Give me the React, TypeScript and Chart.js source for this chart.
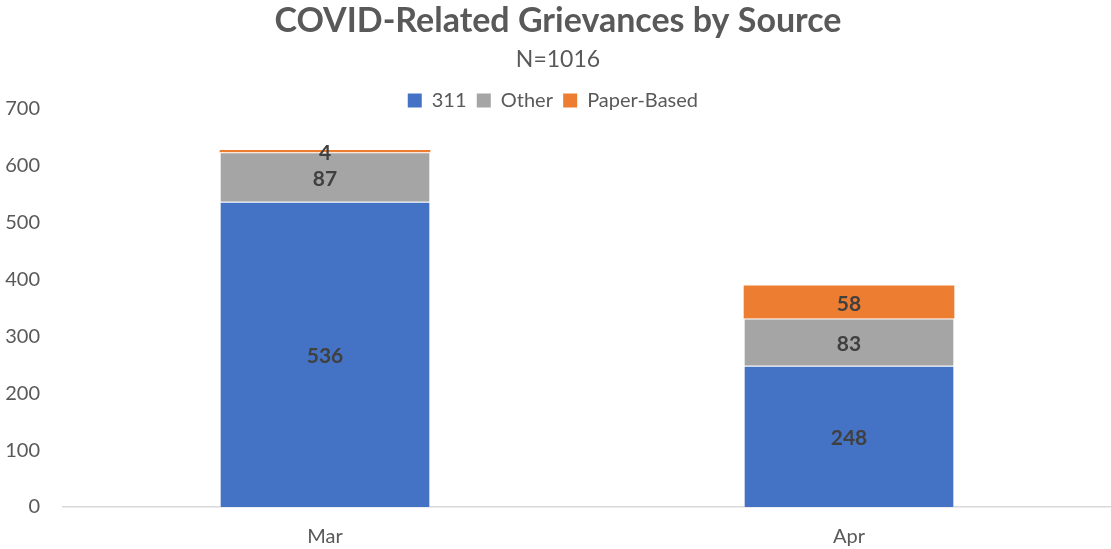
import React, { useEffect, useRef } from "react";
import { Chart, registerables } from "chart.js";

Chart.register(...registerables);

const categories = ["Mar", "Apr"];
const seriesNames = ["311", "Other", "Paper-Based"];
const values311 = [536, 248];
const valuesOther = [87, 83];
const valuesPaper = [4, 58];
const yTicks = [0, 100, 200, 300, 400, 500, 600, 700];

const FONT = "Lato, 'Noto Sans', sans-serif";
const TEXT = "#595959";

const dataLabels = {
  id: "dataLabels",
  afterDatasetsDraw(chart: any) {
    const ctx = chart.ctx;
    ctx.save();
    ctx.font = `bold 21px ${FONT}`;
    ctx.fillStyle = "#404040";
    ctx.textAlign = "center";
    ctx.textBaseline = "middle";
    chart.data.datasets.forEach((ds: any, i: number) => {
      const meta = chart.getDatasetMeta(i);
      meta.data.forEach((el: any, j: number) => {
        const y = (el.y + el.base) / 2;
        ctx.fillText(String(ds.data[j]), el.x, y + 2);
      });
    });
    ctx.restore();
  },
};

// Let the legend overlap the top of the plot area a little, as in the reference.
const legendShrink = {
  id: "legendShrink",
  beforeLayout(chart: any) {
    const lg = chart.legend;
    if (lg && !lg._shrunk) {
      const orig = lg.fit.bind(lg);
      lg.fit = function () {
        orig();
        this._fullHeight = this.height;
        this.height = 18;
      };
      lg._shrunk = true;
    }
  },
  afterLayout(chart: any) {
    const lg = chart.legend;
    if (lg && lg._fullHeight) {
      lg.height = lg._fullHeight;
      lg.bottom = lg.top + lg._fullHeight;
    }
  },
};

export default function App() {
  const ref = useRef<HTMLCanvasElement>(null);
  useEffect(() => {
    document.body.style.margin = "0";
    const chart = new Chart(ref.current!, {
      type: "bar",
      data: {
        labels: categories,
        datasets: [
          { label: seriesNames[0], data: values311, backgroundColor: "#4472C4", borderWidth: 1 },
          { label: seriesNames[1], data: valuesOther, backgroundColor: "#A5A5A5", borderWidth: 1 },
          { label: seriesNames[2], data: valuesPaper, backgroundColor: "#ED7D31", borderWidth: 0 },
        ].map((d) => ({
          ...d,
          borderColor: "rgba(255,255,255,0.5)",
          categoryPercentage: 1,
          barPercentage: 0.402,
        })),
      },
      options: {
        animation: false,
        responsive: false,
        maintainAspectRatio: false,
        layout: { padding: { left: 5, right: 0, top: 0, bottom: 0 } },
        plugins: {
          title: {
            display: true,
            text: "COVID-Related Grievances by Source",
            color: TEXT,
            font: { family: FONT, size: 34, weight: "bold", lineHeight: 1.2 },
            padding: { top: 1, bottom: 0 },
          },
          subtitle: {
            display: true,
            text: "N=1016",
            color: TEXT,
            font: { family: FONT, size: 23, lineHeight: 1.2 },
            padding: { top: 4, bottom: 17 },
          },
          legend: {
            display: true,
            position: "top",
            labels: {
              color: TEXT,
              font: { family: FONT, size: 20 },
              boxWidth: 14,
              boxHeight: 14,
              padding: 0,
              generateLabels(chart: any) {
                return chart.data.datasets.map((ds: any, i: number) => ({
                  text: ds.label + "  ",
                  fillStyle: ds.backgroundColor,
                  strokeStyle: ds.backgroundColor,
                  lineWidth: 0,
                  fontColor: TEXT,
                  hidden: false,
                  datasetIndex: i,
                }));
              },
            },
          },
          tooltip: { enabled: false },
        },
        scales: {
          x: {
            stacked: true,
            grid: { display: false, drawTicks: false },
            border: { display: true, color: "#D9D9D9", width: 1.5 },
            ticks: { color: TEXT, font: { family: FONT, size: 20 }, padding: 18 },
            afterFit(scale: any) {
              scale.height = 42;
            },
          },
          y: {
            stacked: true,
            min: 0,
            max: 700,
            afterBuildTicks(axis: any) {
              axis.ticks = yTicks.map((v) => ({ value: v }));
            },
            grid: { display: false, drawTicks: false },
            border: { display: false },
            ticks: { color: TEXT, font: { family: FONT, size: 20 }, padding: 23 },
            afterFit(scale: any) {
              scale.width = 58;
            },
          },
        },
      },
      plugins: [dataLabels, legendShrink],
    } as any);
    return () => chart.destroy();
  }, []);
  return (
    <div style={{ width: 1111, height: 549 }}>
      <canvas ref={ref} width={1111} height={549} style={{ display: "block" }} />
    </div>
  );
}
